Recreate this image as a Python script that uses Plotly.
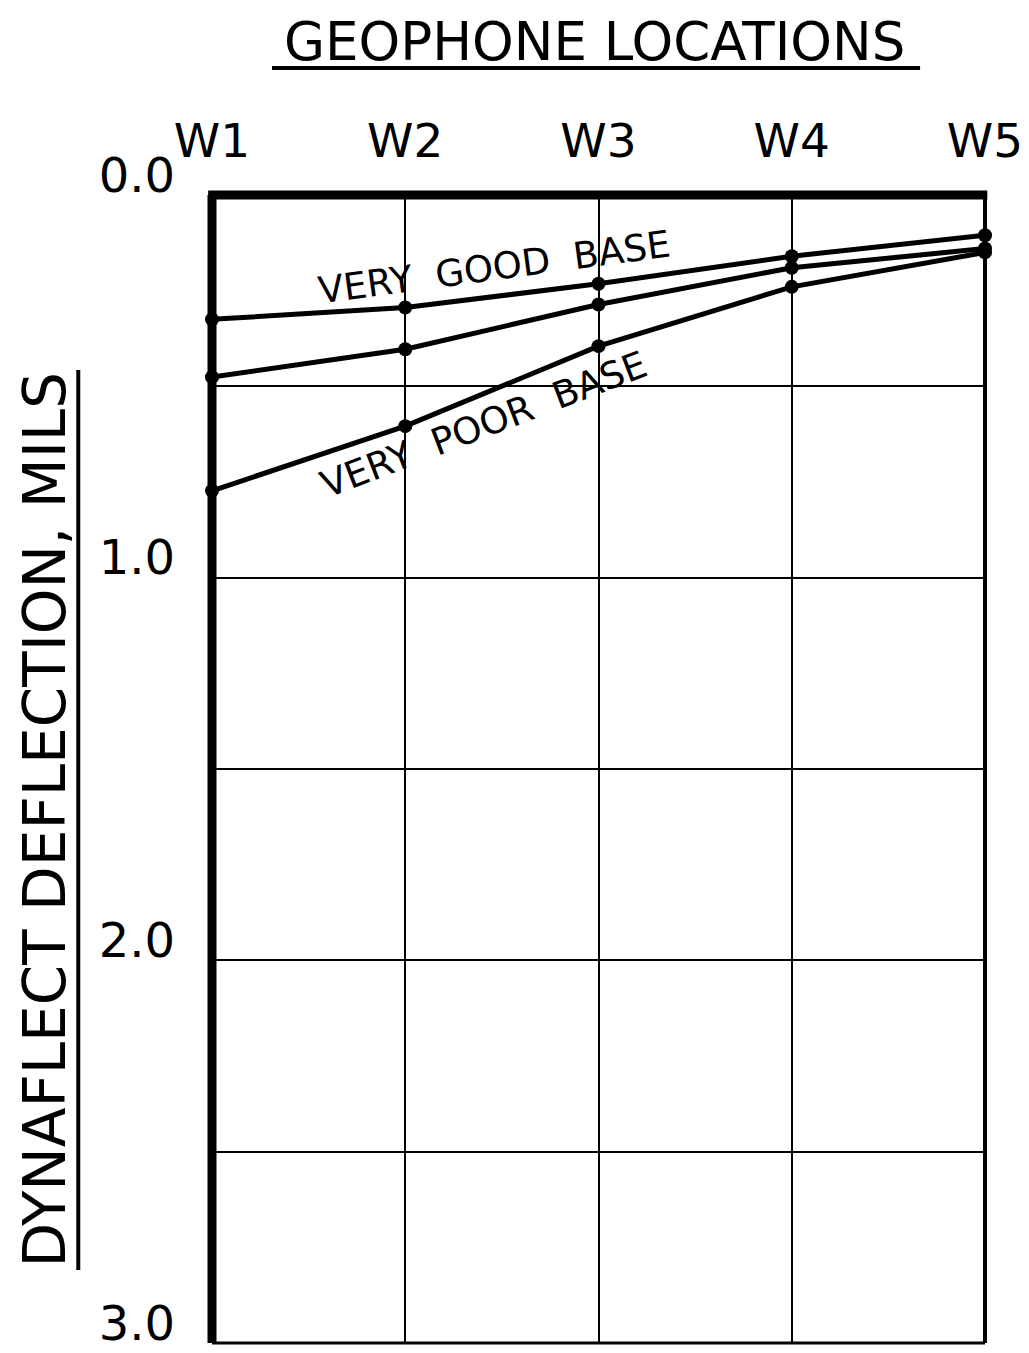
import plotly.graph_objects as go

locations = ["W1", "W2", "W3", "W4", "W5"]
very_good_base = [0.325, 0.294, 0.232, 0.160, 0.105]
intermediate_base = [0.476, 0.403, 0.286, 0.190, 0.140]
very_poor_base = [0.773, 0.604, 0.395, 0.240, 0.150]
y_tick_values = [0.0, 0.5, 1.0, 1.5, 2.0, 2.5, 3.0]
y_tick_text = ["0.0", "", "1.0", "", "2.0", "", "3.0"]

FONT = "DejaVu Sans, sans-serif"
xpos = list(range(len(locations)))

fig = go.Figure()
for name, vals in [("Very Good Base", very_good_base),
                   ("Intermediate", intermediate_base),
                   ("Very Poor Base", very_poor_base)]:
    fig.add_trace(go.Scatter(
        x=xpos, y=vals, mode="lines+markers", name=name,
        line=dict(color="black", width=5),
        marker=dict(color="black", size=14),
        cliponaxis=False, showlegend=False))

fig.update_layout(
    width=1013, height=1337,
    margin=dict(l=204, r=36, t=187, b=2, autoexpand=False),
    paper_bgcolor="white", plot_bgcolor="white",
    font=dict(family=FONT, color="black"),
    xaxis=dict(range=[0, 4], side="top", tickvals=xpos, ticktext=locations,
               tickfont=dict(size=47, family=FONT),
               showgrid=True, gridcolor="black", gridwidth=2,
               zeroline=False, showline=False, ticks="", ticklabelstandoff=28,
               ticklabeloverflow="allow", automargin=False),
    yaxis=dict(range=[3, 0], tickvals=y_tick_values, ticktext=y_tick_text,
               tickfont=dict(size=48, family=FONT),
               showgrid=True, gridcolor="black", gridwidth=2,
               zeroline=False, showline=False, ticks="",
               ticklabelstandoff=36, ticklabelshift=20,
               ticklabeloverflow="allow", automargin=False),
)

shapes = [
    dict(type="line", xref="paper", yref="paper", x0=0, x1=0, y0=0, y1=1,
         line=dict(color="black", width=9)),
    dict(type="line", xref="paper", yref="paper", x0=-0.005, x1=1.003, y0=1, y1=1,
         line=dict(color="black", width=9)),
    dict(type="line", xref="paper", yref="paper", x0=1, x1=1, y0=0, y1=1,
         line=dict(color="black", width=4)),
    dict(type="line", xref="paper", yref="paper", x0=0, x1=1, y0=0, y1=0,
         line=dict(color="black", width=3)),
    dict(type="line", xref="paper", yref="paper", x0=0.0776, x1=0.916, y0=1.1106, y1=1.1106,
         line=dict(color="black", width=4)),
    dict(type="line", xref="paper", yref="paper", x0=-0.173, x1=-0.173, y0=0.0636, y1=0.8476,
         line=dict(color="black", width=4)),
]
fig.update_layout(shapes=shapes)

annotations = [
    dict(text="GEOPHONE LOCATIONS", xref="paper", yref="paper", x=0.495, y=1.1333,
         xanchor="center", yanchor="middle", showarrow=False,
         font=dict(size=53, family=FONT)),
    dict(text="DYNAFLECT DEFLECTION, MILS", xref="paper", yref="paper", x=-0.17, y=0.4556,
         xanchor="right", yanchor="middle", textangle=-90, showarrow=False,
         font=dict(size=58, family=FONT)),
    dict(text="VERY  GOOD  BASE", x=1.46, y=0.19, showarrow=False, textangle=-7.7,
         font=dict(size=37, family=FONT)),
    dict(text="VERY  POOR  BASE", x=1.41, y=0.60, showarrow=False, textangle=-21,
         font=dict(size=37, family=FONT)),
]
fig.update_layout(annotations=annotations)

fig.write_html("out.html")
